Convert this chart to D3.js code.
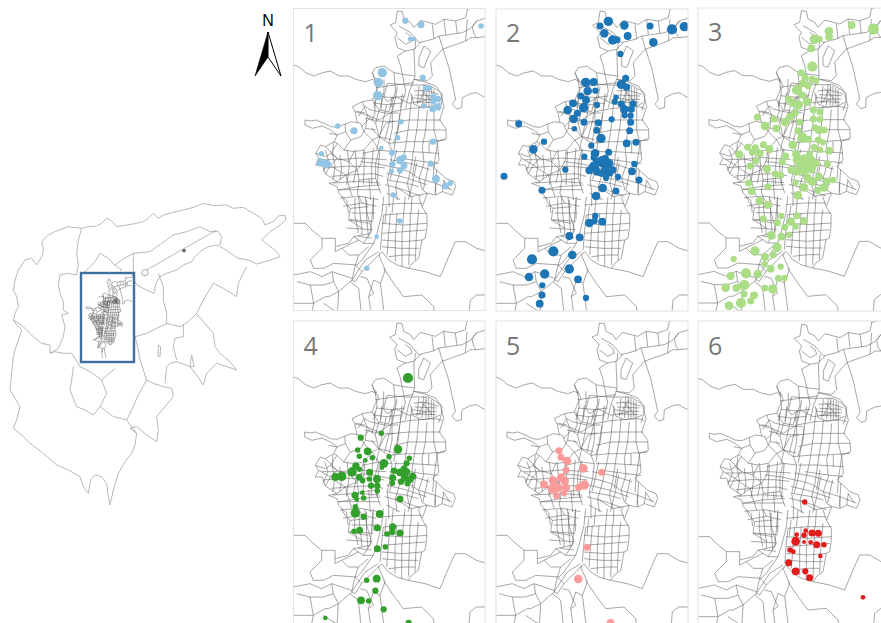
<!DOCTYPE html>
<html>
<head>
<meta charset="utf-8">
<script src="https://cdn.jsdelivr.net/npm/d3@7"></script>
<style>
  html, body { margin: 0; padding: 0; background: #fff; overflow: hidden; }
</style>
</head>
<body>
<svg width="881" height="623"></svg>
<script>

// *** DATA ***
// points are [x, y, radius] in its own map units

const panel_labels = ["1", "2", "3", "4", "5", "6"];
const panel_colors = ["#92c5e3", "#1f74b4", "#aadd85", "#30a02c", "#fb9a99", "#e31a1c"];

const points_1 = [[346,62,8],[393,74,9],[573,78,7],[360,117,6],[372,117,6],[277,218,12],[265,247,12],[263,287,12],[398,233,8],[408,265,8],[420,264,6],[430,290,8],[444,297,8],[430,305,7],[401,318,7],[443,320,9],[428,326,9],[333,365,7],[143,378,7],[192,392,9],[323,413,7],[429,425,8],[274,444,6],[306,458,8],[94,461,7],[341,472,8],[330,480,11],[92,487,11],[110,492,11],[307,493,8],[342,497,9],[422,491,8],[305,514,6],[330,511,8],[438,537,10],[481,550,7],[466,558,9],[310,585,7],[329,663,7],[260,710,6],[230,805,7]];

const points_2 = [[349,64,12],[324,78,9],[397,76,11],[474,78,9],[540,88,13],[577,80,12],[337,100,11],[407,108,10],[362,120,12],[375,119,9],[484,127,11],[385,162,8],[401,235,9],[281,247,12],[305,246,10],[388,253,12],[404,261,9],[287,273,11],[310,272,8],[266,288,9],[372,292,7],[282,300,10],[368,305,8],[243,310,10],[388,312,9],[423,311,9],[315,315,8],[275,323,12],[227,330,11],[397,328,11],[418,328,9],[256,340,9],[398,346,8],[416,347,8],[245,357,11],[359,358,8],[319,368,9],[276,367,9],[416,367,9],[80,371,9],[247,386,7],[314,391,9],[413,392,9],[327,415,12],[156,425,8],[404,430,10],[432,427,9],[298,437,8],[124,448,11],[309,460,11],[350,457,9],[277,470,8],[305,473,8],[340,475,9],[332,485,15],[315,485,10],[350,490,12],[427,492,8],[306,500,13],[220,509,8],[292,511,10],[340,512,12],[363,509,9],[420,514,10],[315,515,10],[328,520,9],[352,518,10],[378,531,8],[342,534,8],[441,540,9],[36,529,9],[332,564,11],[150,571,9],[372,573,9],[312,588,11],[310,648,8],[292,669,11],[308,663,8],[331,665,10],[232,708,10],[263,712,10],[184,754,13],[241,765,11],[120,778,13],[232,807,12],[111,831,11],[158,822,12],[258,838,10],[151,856,8],[150,885,9],[282,894,8],[143,911,10]];

const points_3 = [[473,75,10],[538,87,14],[405,94,11],[405,110,10],[361,118,12],[375,117,9],[352,145,10],[355,200,13],[322,218,9],[333,232,9],[354,238,9],[367,242,8],[327,250,10],[342,257,9],[309,270,13],[324,285,9],[283,298,9],[296,308,11],[339,305,11],[313,315,12],[190,352,9],[240,357,9],[358,330,9],[378,335,9],[304,338,9],[288,350,10],[358,357,9],[378,358,9],[273,366,11],[213,378,11],[317,367,9],[247,385,10],[363,383,9],[375,390,11],[390,390,9],[312,392,9],[325,413,13],[343,418,9],[373,420,9],[387,427,8],[296,435,11],[360,442,9],[378,450,8],[405,452,10],[161,442,9],[184,443,9],[208,434,9],[226,447,10],[175,457,9],[197,460,10],[136,463,10],[347,462,9],[306,462,10],[275,468,9],[186,482,9],[265,485,9],[330,480,15],[310,480,12],[350,480,12],[365,490,10],[400,492,9],[168,498,9],[219,507,10],[292,510,10],[320,498,13],[308,515,10],[350,505,13],[330,515,10],[244,522,9],[260,525,9],[375,530,10],[340,533,10],[355,545,11],[400,543,9],[417,540,8],[305,548,8],[164,549,9],[222,560,9],[330,562,11],[390,562,11],[371,571,9],[173,573,10],[311,586,11],[196,603,10],[221,615,10],[309,647,9],[262,648,8],[208,656,9],[250,668,9],[290,665,11],[330,663,10],[305,680,8],[272,682,9],[232,706,11],[262,710,10],[285,705,8],[249,742,12],[238,764,9],[183,753,12],[213,771,10],[119,777,8],[212,793,8],[230,806,10],[260,800,8],[156,820,13],[191,822,11],[110,828,10],[253,835,9],[272,834,8],[151,855,13],[95,863,11],[127,864,10],[212,864,9],[236,867,12],[150,882,9],[180,886,10],[141,909,13],[170,903,9],[105,917,11]];

const points_4 = [[354,189,13],[274,355,7],[212,368,8],[324,403,11],[203,405,7],[233,409,10],[208,424,7],[247,428,7],[297,425,7],[226,436,6],[358,430,7],[282,445,11],[350,445,8],[276,458,6],[198,452,9],[208,463,7],[186,471,12],[239,472,9],[312,467,8],[342,462,9],[330,472,10],[350,470,9],[136,486,10],[155,484,12],[208,487,9],[218,497,7],[261,492,10],[238,492,7],[308,488,9],[345,488,10],[368,484,9],[307,505,7],[333,500,8],[360,495,8],[352,506,7],[243,512,8],[262,513,8],[262,528,7],[217,533,6],[195,541,9],[221,549,7],[200,553,6],[330,552,9],[196,575,7],[196,594,12],[269,597,10],[221,605,8],[262,638,9],[308,635,9],[192,649,7],[209,646,9],[307,651,8],[291,657,7],[330,654,9],[262,701,9],[286,696,7],[260,791,10],[230,796,7],[256,827,8],[213,856,10],[236,858,7],[281,883,8],[106,909,6],[356,924,8]];

const points_5 = [[201,407,9],[207,427,9],[225,438,11],[222,465,9],[274,460,11],[329,472,9],[208,488,11],[183,497,11],[218,498,11],[156,508,10],[277,510,12],[260,517,9],[181,521,12],[198,518,11],[222,518,10],[216,535,8],[194,542,9],[285,697,9],[259,792,11],[356,924,10]];

const points_6 = [[332,561,7],[335,647,6],[308,659,6],[354,654,9],[373,655,9],[330,661,7],[305,679,11],[330,681,5],[350,682,6],[368,689,9],[390,689,7],[288,705,7],[298,710,6],[379,723,6],[284,743,9],[305,769,10],[334,769,8],[347,788,9],[507,847,6]];

const all_points = [points_1, points_2, points_3, points_4, points_5, points_6];

// base map traced in pieces, each with the offset that brings it to map units

const north_offset = [197, 14];
const north_lines = [
  [[-200,160],[-190,170],[-170,178],[-150,195],[-125,205],[-100,195],[-75,190],[-50,205],[-20,205],[0,215]],
  [[0,215],[30,222],[50,215],[60,220],[50,195],[60,180],[85,175],[115,195],[140,200],[135,175],[125,145],[150,130],[125,120],[118,90],[125,75],[103,52],[120,45],[125,10],[140,12],[145,35],[165,45],[175,60],[195,38],[240,50],[265,35],[300,40],[330,30],[335,5]],
  [[335,-20],[335,5],[363,-5],[410,-10]],
  [[130,55],[165,75],[190,105],[230,95],[250,85],[320,75],[345,62],[363,40],[410,25]],
  [[230,50],[235,95]], [[265,35],[270,80]], [[300,40],[305,78]],
  [[195,105],[175,125],[178,205],[175,215],[215,220],[230,205],[225,165],[260,125],[330,100],[345,90],[363,90],[410,85]],
  [[363,40],[350,58],[355,80],[363,90]],
  [[250,85],[262,125]],
  [[262,125],[280,180],[295,250],[300,275],[290,290],[303,304],[318,300],[320,270],[345,258],[363,255],[385,268],[415,270]],
  [[205,115],[190,150],[190,175],[205,180],[225,130],[205,115]],
  [[150,75],[165,85],[170,100],[150,110],[125,90]],
  [[150,130],[175,125]], [[140,200],[178,205]], [[180,100],[178,125]],
  [[330,100],[335,35]],
  // top of the city
  [[60,220],[65,260],[55,300]], [[85,215],[85,250],[75,300]], [[115,195],[120,250],[105,300]],
  [[140,200],[150,250],[135,300]], [[175,215],[160,255],[150,300]],
  [[60,240],[118,232],[175,225]], [[62,265],[110,270],[150,265]],
  [[50,195],[62,225]],
  // dense knot
  [[175,215],[215,225],[240,235],[260,260],[258,285],[250,310]],
  [[165,255],[175,290],[200,300],[235,295],[255,285]],
  [[190,235],[185,290]], [[205,230],[200,295]], [[220,235],[220,295]], [[235,245],[235,295]],
  [[175,250],[210,248],[250,260]], [[170,270],[205,275],[245,275]],
  [[195,245],[212,262],[230,285]], [[215,240],[200,262],[190,285]], [[178,262],[245,265]], [[180,283],[242,285]],
  [[212,232],[212,295]], [[228,240],[228,292]]
];

const west_offset = [17, 251];
const west_lines = [
  // outline, north west side
  [[28,100],[45,103],[60,100],[85,110],[105,120],[125,122],[148,112],[168,105],[185,108],[178,75],[170,60],[200,45],[230,40],[240,15],[250,0],[240,-25]],
  [[28,100],[28,115],[50,125],[80,118],[105,130],[125,145],[115,165],[90,180],[75,175],[60,200],[70,215],[60,235],[80,235],[90,262],[125,285],[100,290],[125,300],[130,320],[150,340]],
  // outline, east side
  [[275,-10],[330,-5],[400,-5],[425,10],[435,20],[445,60],[432,100],[450,125],[452,155],[425,165],[430,220],[412,240],[450,275],[475,285],[480,300],[470,325],[440,315],[420,325],[395,320],[380,360]],
  // west blocks
  [[125,145],[150,135],[165,160],[145,190],[125,170],[115,165]],
  [[165,160],[195,150],[205,135],[195,110]],
  [[205,135],[230,160],[250,150],[240,110],[250,70]],
  [[178,75],[215,85],[240,110]],
  [[200,45],[215,85],[210,125],[205,135]],
  [[230,40],[250,70],[280,75],[290,30]],
  [[145,190],[175,195],[205,190],[230,160]],
  [[205,190],[200,225],[185,250],[190,280],[240,275]],
  [[175,195],[160,225],[185,250]],
  [[160,225],[125,215],[105,235],[90,262]],
  [[90,180],[125,215]], [[125,170],[105,200],[125,215]],
  [[125,285],[150,265],[185,250]], [[150,265],[160,300],[170,330]],
  [[60,200],[90,210],[105,200]], [[70,215],[105,235]], [[105,235],[125,250],[150,265]],
  [[100,140],[125,145]], [[148,112],[150,135]], [[185,108],[195,110]],
  [[195,225],[240,230]], [[200,200],[250,190]], [[215,85],[250,100]], [[210,125],[240,130]],
  [[190,280],[185,320],[200,350]], [[130,310],[185,300],[255,295]], [[220,275],[225,340]],
  // river band and centre
  [[230,160],[250,190],[240,230],[240,275],[255,320]],
  [[250,190],[290,195],[280,170],[250,150]],
  [[290,195],[285,240],[275,280],[280,310],[280,360]],
  [[240,230],[285,240],[310,245],[340,255],[370,275],[420,290],[470,310]],
  [[280,170],[290,125],[290,75]],
  [[250,150],[270,110],[290,105]], [[250,100],[290,75]],
  // east grid
  [[320,20],[315,70],[305,130],[295,190]],
  [[345,60],[340,110],[330,180],[315,250],[300,300],[305,340]],
  [[370,60],[365,120],[355,180],[345,250],[335,290],[345,330]],
  [[395,70],[390,130],[380,180],[385,230],[370,275],[380,310],[395,320]],
  [[415,60],[415,130],[425,170],[415,240],[412,280]],
  [[300,30],[340,50],[370,45],[395,40]],
  [[290,75],[345,65],[420,60],[440,65]],
  [[290,105],[340,100],[395,100],[435,100]],
  [[295,140],[340,130],[390,130],[450,130]],
  [[280,170],[335,165],[380,165],[450,160]],
  [[295,195],[350,195],[430,200]],
  [[315,215],[385,225],[430,230]],
  [[275,280],[335,290],[370,300]], [[300,300],[345,330],[395,320]],
  [[420,290],[420,325]], [[445,280],[440,315]], [[350,25],[345,60]], [[305,0],[300,30],[290,75]],
  [[260,20],[255,70]], [[275,-10],[265,30],[275,45],[300,30]], [[360,210],[350,270]], [[400,165],[400,200]]
];

const south_offset = [11, 581];
const south_lines = [
  // outline east and south
  [[375,0],[385,30],[400,55],[400,90],[395,125],[385,130],[375,185],[355,200],[345,215],[310,205],[285,190],[265,165],[255,175],[275,220],[260,260],[270,339],[280,370]],
  // rural lines
  [[345,215],[395,225],[440,240],[465,180],[485,135],[515,135],[549,155],[600,170]],
  [[270,215],[300,260],[330,300],[385,295],[420,330],[425,370]],
  [[600,295],[549,295],[530,310],[525,370]],
  [[-15,75],[0,80],[35,80],[55,100],[85,125],[125,125],[125,150]],
  [[85,125],[85,155],[50,190],[60,215],[90,215],[120,200],[190,205]],
  [[-15,232],[0,235],[50,225],[85,240],[115,225],[160,240],[175,245]],
  [[10,255],[50,265],[90,265],[120,255],[135,285],[130,370]],
  [[120,255],[115,225]],
  [[135,285],[105,300],[95,300],[60,320],[50,370]],
  [[-15,320],[60,320]], [[50,265],[60,320]],
  [[135,285],[170,255],[195,275],[205,370]],
  [[90,320],[120,340],[130,345]],
  // outline west
  [[145,0],[155,20],[170,35],[165,70],[190,85],[205,95],[205,115],[180,120],[165,140],[125,150],[125,165],[145,155],[165,175],[195,175],[185,205],[175,250],[170,255]],
  // wedge and avenues
  [[255,165],[215,190],[175,250],[185,255],[205,225],[250,180],[260,170]],
  [[270,0],[265,50],[250,110],[240,140],[205,190],[190,205]],
  [[200,240],[220,245],[240,290],[225,300],[235,370]],
  [[260,260],[240,250],[225,300]], [[185,205],[205,225]],
  // south blocks
  [[270,55],[265,100],[260,160]], [[290,50],[285,110],[280,175]], [[310,50],[305,120],[305,195]],
  [[330,50],[325,120],[325,210]], [[350,50],[348,120],[345,205]], [[375,40],[368,120],[365,190]],
  [[270,55],[330,50],[400,50]], [[265,80],[330,85],[400,80]], [[265,110],[330,105],[395,100]],
  [[265,130],[330,135],[385,130]], [[265,150],[320,155],[375,155]], [[285,180],[330,175],[365,175]],
  [[265,25],[320,20],[385,20]], [[300,0],[295,50]], [[335,0],[330,50]], [[355,0],[352,50]],
  // south west blocks
  [[195,0],[200,60],[205,95]], [[215,0],[220,50],[235,100],[210,140]], [[240,0],[235,60],[230,110]],
  [[165,70],[225,80]], [[170,35],[225,30]], [[205,115],[230,110]], [[180,120],[210,140],[240,140]],
  [[145,155],[195,130]], [[195,175],[225,150]]
];

// extra blocks, already in map units
const block_lines = [
  [[250,300],[290,305],[335,300]], [[240,320],[285,330],[325,330]], [[225,345],[270,355],[315,355]],
  [[290,305],[280,350],[270,395]], [[310,300],[300,350],[285,410]], [[255,290],[255,330],[245,355]],
  [[205,340],[225,310],[240,320]], [[215,370],[240,345]], [[245,375],[265,400],[305,410]],
  [[330,330],[325,380],[310,420]], [[200,325],[225,330]], [[270,400],[260,440]],
  [[130,420],[128,455],[135,490],[130,530]], [[105,440],[115,470],[100,505]], [[150,455],[155,500],[150,530]],
  [[172,440],[178,490],[170,545]], [[195,440],[200,490],[190,540]], [[225,445],[222,500],[220,545]],
  [[250,435],[245,490],[245,545]], [[270,440],[265,490],[262,545]],
  [[95,470],[150,470],[205,465],[290,470]], [[100,495],[170,490],[240,490],[285,495]],
  [[125,520],[190,515],[250,512],[280,520]], [[130,540],[200,535],[270,540]],
  [[145,560],[205,560],[270,560]], [[150,585],[210,580],[265,590]], [[160,610],[215,600],[260,610]],
  [[170,590],[175,630]], [[195,585],[195,640],[205,690]], [[230,590],[230,640],[235,700]], [[250,590],[250,650]],
  [[185,630],[255,630]], [[180,650],[250,655]], [[170,675],[245,680]], [[205,700],[245,705]],
  [[300,470],[355,480],[420,500]], [[290,510],[350,525],[410,545]], [[285,545],[340,560],[395,580]],
  [[290,570],[330,590]], [[320,440],[310,490],[300,530]], [[380,480],[370,530],[355,590]],
  [[415,490],[400,560]], [[440,500],[435,570]], [[460,530],[480,560]], [[290,610],[285,660]]
];

// department outline for the locator map, read in its own units
const region_lines = [
  [[245,115],[265,110],[290,108],[305,100],[320,85],[335,92],[350,110],[380,105],[410,100],[430,95],[445,85],[460,70],[475,85],[490,75],[510,70],[540,62],[570,55],[590,48],[610,40],[640,47],[680,45],[700,55],[730,52],[760,70],[785,85],[795,105],[820,95],[835,78],[855,75],[858,90],[840,105],[810,125],[785,150],[805,165],[825,180],[840,200],[805,212],[770,222],[745,210],[715,205],[700,195],[670,175],[650,165],[625,170],[600,185],[585,200],[575,215],[550,225],[530,240],[500,250],[480,260],[468,280],[462,310],[440,300],[410,285],[400,265],[395,250]],
  [[245,115],[205,110],[165,125],[145,135],[125,155],[130,175],[128,195],[110,225],[95,205],[75,210],[55,240],[45,270],[40,300],[50,320],[55,350],[45,370],[40,390],[50,405],[65,420],[55,450],[45,480],[40,500],[35,550],[30,600],[45,625],[60,650],[50,690],[40,715],[65,735],[90,760],[130,790],[170,825],[205,840],[240,860],[250,890],[265,910],[272,870],[285,855],[305,860],[320,880],[325,920],[330,945],[340,900],[355,850],[375,815],[395,790],[405,765],[410,730],[390,715],[410,710],[440,735],[470,755],[475,720],[470,680],[495,650],[520,620],[515,595],[490,590],[460,580],[440,570]],
  [[245,115],[235,150],[230,190],[235,225],[230,255],[205,250],[180,255],[175,285],[180,310],[190,335],[190,360],[205,370],[185,375],[195,410],[190,440],[175,475],[150,490],[165,485],[190,490],[215,490]],
  [[40,390],[70,410],[100,440],[125,460],[150,465],[150,490]],
  [[400,190],[400,220],[400,250]],
  [[400,190],[365,210],[345,225],[325,205],[300,190],[285,215],[270,230],[250,250]],
  [[345,225],[365,240],[360,240]],
  [[400,190],[450,185],[485,160],[520,135],[560,125],[600,110],[630,125],[655,125],[665,140],[660,165]],
  [[475,250],[490,290],[490,330],[500,370],[500,400],[470,415],[440,430],[405,440]],
  [[500,400],[540,410],[565,395],[590,370],[610,395],[640,430],[645,470],[660,490],[690,515],[710,540],[680,530],[650,520],[625,545],[620,550],[610,585],[590,555],[570,530],[530,515],[510,520],[500,530],[495,580]],
  [[590,370],[610,330],[640,280],[670,295],[710,320],[715,280],[740,230]],
  [[550,405],[550,440],[525,445],[520,470],[530,510]],
  [[405,440],[415,480],[420,510],[440,570],[415,615],[395,660],[380,690],[340,680],[300,650],[320,610],[305,570],[345,535]],
  [[305,570],[270,545],[240,530],[215,490]],
  [[220,530],[215,570],[210,600],[230,650],[255,660],[280,675],[300,650]],
  [[380,690],[410,730]],
  [[575,495],[570,530],[582,530],[575,495]],
  [[475,465],[482,470],[480,500],[474,498],[475,465]]
];
const region_road = [[440,240],[650,120]];

// *** PANELS ***

const svg = d3.select("svg");

const defs = svg.append("defs");
defs.append("filter").attr("id", "soft")
  .append("feGaussianBlur").attr("stdDeviation", 0.3);

const line = d3.line().x(d => d[0]).y(d => d[1]);

const moved = (lines, off) => lines.map(l => l.map(d => [d[0] + off[0], d[1] + off[1]]));

const base_lines = moved(north_lines, north_offset)
  .concat(moved(west_lines, west_offset))
  .concat(moved(south_lines, south_offset))
  .concat(block_lines);

// crop is where map unit 0,0 falls, shift is how far the base map sits from panel 5
const panels = [
  {crop: [290, 0],   shift: [0, 9],  frame: [293.5, 8.5, 191.5, 302]},
  {crop: [492, 0],   shift: [2, 9],  frame: [496, 9, 192, 302]},
  {crop: [694, 0],   shift: [0, 8],  frame: [698, 8, 190, 303]},
  {crop: [290, 315], shift: [-1, 0], frame: [293.5, 321, 191.5, 310]},
  {crop: [492, 315], shift: [0, 0],  frame: [496, 321, 192, 310]},
  {crop: [694, 315], shift: [1, 4],  frame: [698, 321, 190, 310]}
];

panels.forEach((p, i) => {

  const x = d3.scaleLinear().domain([0, 600]).range([p.crop[0], p.crop[0] + 200]);
  const y = d3.scaleLinear().domain([0, 600]).range([p.crop[1], p.crop[1] + 200]);
  const r = d3.scaleLinear().domain([0, 600]).range([0, 235]);

  defs.append("clipPath").attr("id", "clip" + i)
    .append("rect")
      .attr("x", p.frame[0]).attr("y", p.frame[1])
      .attr("width", p.frame[2]).attr("height", p.frame[3]);

  const g = svg.append("g").attr("filter", "url(#soft)");
  const map = g.append("g").attr("clip-path", "url(#clip" + i + ")");

  const to_px = pts => pts.map(d => [x(d[0] + p.shift[0]), y(d[1] + p.shift[1])]);

  map.selectAll(".base").data(base_lines).enter().append("path")
    .attr("d", d => line(to_px(d)))
    .style("fill", "none").style("stroke", "#5e5e5e").style("stroke-width", 0.55);

  map.selectAll("circle").data(all_points[i]).enter().append("circle")
    .attr("cx", d => x(d[0]))
    .attr("cy", d => y(d[1]))
    .attr("r", d => r(d[2]))
    .style("fill", panel_colors[i]);

  g.append("rect")
    .attr("x", p.frame[0]).attr("y", p.frame[1])
    .attr("width", p.frame[2]).attr("height", p.frame[3])
    .style("fill", "none").style("stroke", "#e2e2e2").style("stroke-width", 1);

  svg.append("text")
    .attr("x", p.frame[0] + 10)
    .attr("y", p.frame[1] + (i < 3 ? 33 : 34))
    .style("font-family", "'Open Sans'")
    .style("font-size", "25px")
    .style("fill", "#777")
    .text(panel_labels[i]);
});

// *** LOCATOR MAP ***

const loc = svg.append("g").attr("filter", "url(#soft)");
const lx = d3.scaleLinear().domain([0, 870]).range([0, 290]);
const ly = d3.scaleLinear().domain([0, 960]).range([190, 510]);

loc.selectAll(".region").data(region_lines).enter().append("path")
  .attr("d", d => line(d.map(c => [lx(c[0]), ly(c[1])])))
  .style("fill", "none").style("stroke", "#b0b0b0").style("stroke-width", 0.9);

loc.append("path")
  .attr("d", line(region_road.map(c => [lx(c[0]), ly(c[1])])))
  .style("fill", "none").style("stroke", "#999").style("stroke-width", 0.7);
loc.append("circle").attr("cx", lx(435)).attr("cy", ly(248)).attr("r", 3.2)
  .style("fill", "#fff").style("stroke", "#999").style("stroke-width", 0.8);
loc.append("circle").attr("cx", lx(552)).attr("cy", ly(182)).attr("r", 1.8)
  .style("fill", "#666");

// the same city drawn small, only the part inside the city limits
const cx = d3.scaleLinear().domain([45, 498]).range([86, 123]);
const cy = d3.scaleLinear().domain([24, 950]).range([279, 358]);
const small = pts => pts.map(d => [cx(d[0]), cy(d[1])]);

loc.selectAll(".small").data(moved(north_lines.slice(1), north_offset)
    .concat(moved(west_lines, west_offset))
    .concat(moved(south_lines.slice(0, 1).concat(south_lines.slice(14)), south_offset))
    .concat(block_lines))
  .enter().append("path")
  .attr("d", d => line(small(d)))
  .style("fill", "none").style("stroke", "#444").style("stroke-width", 0.4);

const box_xy = [[81, 273], [134, 362]];
loc.append("rect")
  .attr("x", box_xy[0][0]).attr("y", box_xy[0][1])
  .attr("width", box_xy[1][0] - box_xy[0][0]).attr("height", box_xy[1][1] - box_xy[0][1])
  .style("fill", "none").style("stroke", "#3f6f9f").style("stroke-width", 2.4);

// *** NORTH ARROW ***

svg.append("text")
  .attr("x", 268).attr("y", 26)
  .attr("text-anchor", "middle")
  .style("font-family", "'Liberation Sans'")
  .style("font-size", "16px")
  .text("N");

svg.append("path")
  .attr("d", "M268,32 L255,76 L268,57 Z")
  .style("fill", "#000").style("stroke", "#000").style("stroke-width", 0.6);
svg.append("path")
  .attr("d", "M268,32 L281,76 L268,57 Z")
  .style("fill", "#fff").style("stroke", "#000").style("stroke-width", 1);

</script>
</body>
</html>
